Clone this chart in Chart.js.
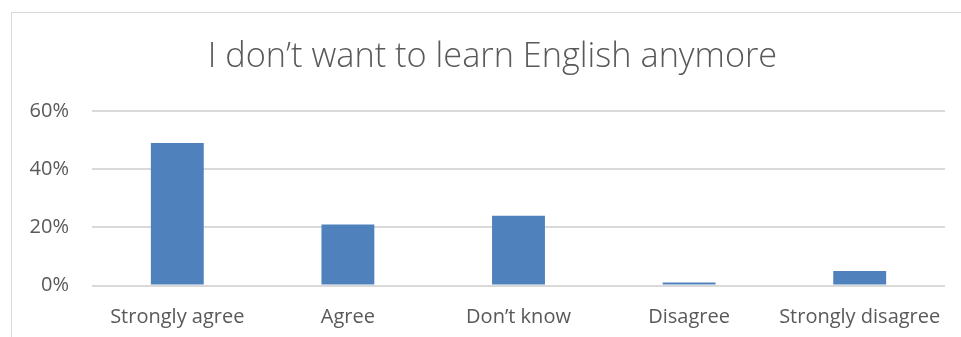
<!DOCTYPE html>
<html>
<head>
<meta charset="utf-8">
<script src="https://cdn.jsdelivr.net/npm/chart.js"></script>
<style>
  html, body { margin: 0; padding: 0; background: #fff; }
  #frame {
    position: absolute; left: 11px; top: 12px; width: 950px; height: 325px;
    border-left: 1px solid #d9d9d9; border-top: 1px solid #d9d9d9;
  }
  #chart { display: block; }
</style>
</head>
<body>
<div id="frame"><canvas id="chart" width="950" height="325"></canvas></div>
<script>
const chartTitle = 'I don\u2019t want to learn English anymore';
const categories = ['Strongly agree', 'Agree', 'Don\u2019t know', 'Disagree', 'Strongly disagree'];
const shares = [49, 21, 24, 1, 5]; // percent of answers
const yMax = 60;
const yStep = 20;

const textColor = '#595959';
const gridColor = '#d9d9d9';
const fontFamily = "'Open Sans', sans-serif";

// the left padding pushes the title right; let the y labels draw into that padding
const widenYLabels = {
    id: 'widenYLabels',
    afterLayout(chart) {
        chart.scales.y.left = 0;
    }
};

new Chart(document.getElementById('chart'), {
    type: 'bar',
    data: {
        labels: categories,
        datasets: [{
            data: shares,
            backgroundColor: '#4f81bd',
            borderWidth: 0,
            categoryPercentage: 1,
            barPercentage: 0.31
        }]
    },
    plugins: [widenYLabels],
    options: {
        responsive: false,
        animation: false,
        layout: { padding: { left: 28, right: 17, top: 0, bottom: 0 } },
        plugins: {
            legend: { display: false },
            tooltip: { enabled: false },
            title: {
                display: true,
                text: chartTitle,
                color: textColor,
                font: { family: fontFamily, size: 34.3, weight: '300' },
                padding: { top: 24, bottom: 33 }
            }
        },
        scales: {
            x: {
                afterFit: function(axis) { axis.height = 52.5; },
                grid: { display: false, drawTicks: false },
                border: { display: false },
                ticks: {
                    color: textColor,
                    font: { family: fontFamily, size: 20 },
                    padding: 19.5,
                    maxRotation: 0,
                    autoSkip: false
                }
            },
            y: {
                min: 0,
                max: yMax,
                afterFit: function(axis) { axis.width = 52; },
                grid: { color: gridColor, lineWidth: 2, drawTicks: false },
                border: { display: false },
                ticks: {
                    stepSize: yStep,
                    color: textColor,
                    font: { family: fontFamily, size: 20 },
                    padding: 23,
                    callback: function(value) { return value + '%'; }
                }
            }
        }
    }
});
</script>
</body>
</html>
